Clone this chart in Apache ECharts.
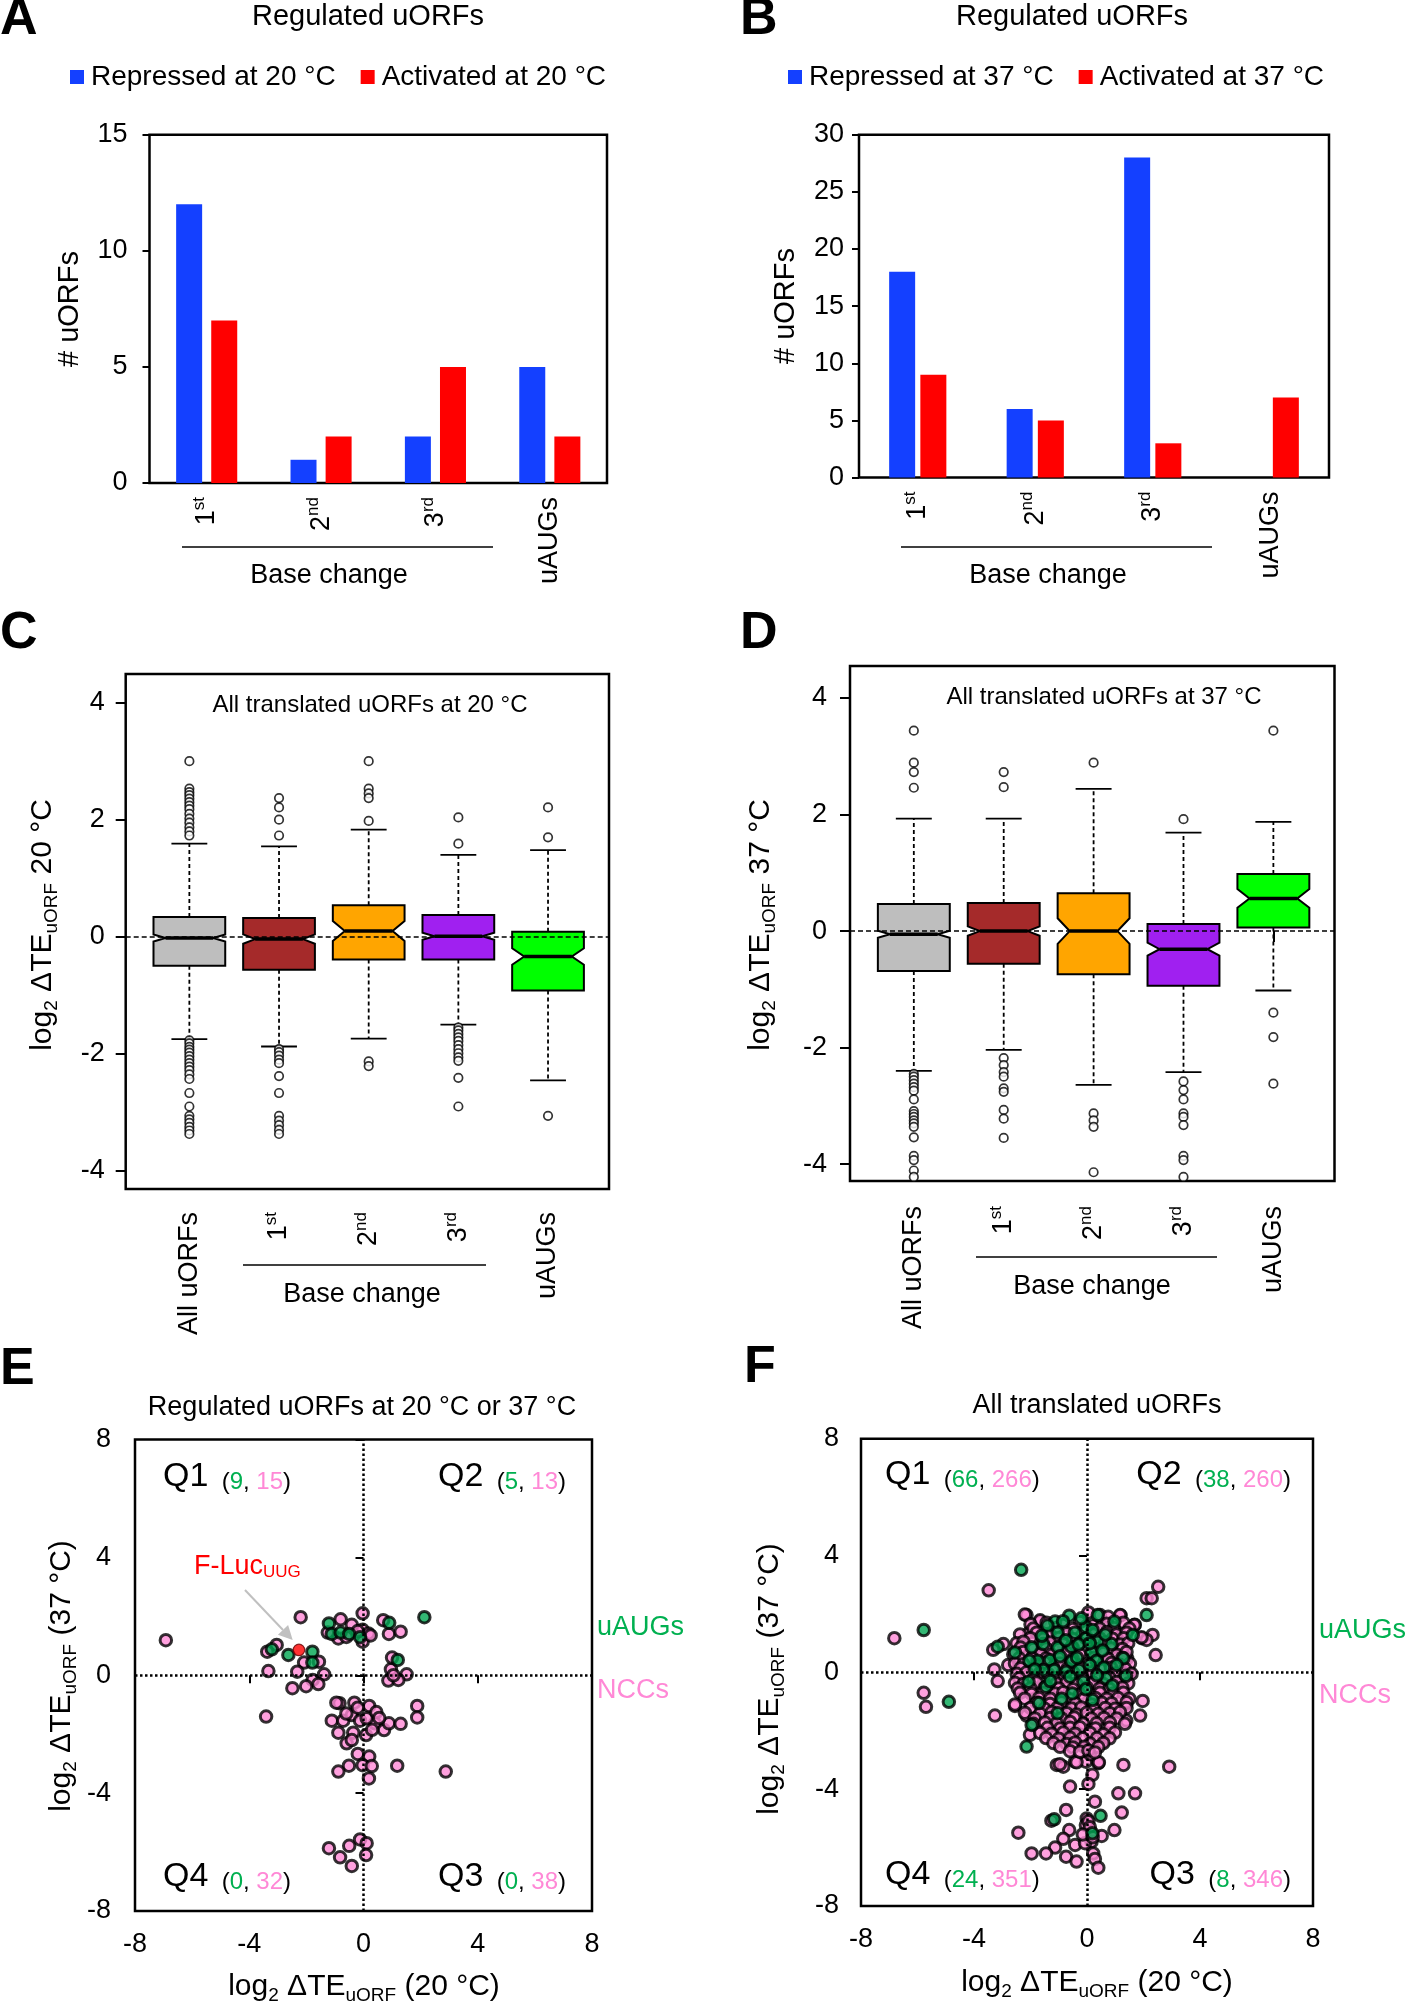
<!DOCTYPE html>
<html>
<head>
<meta charset="utf-8">
<script src="https://cdn.jsdelivr.net/npm/echarts@6/dist/echarts.min.js"></script>
<style>
html, body { margin: 0; padding: 0; background: #fff; }
#main { width: 1418px; height: 2003px; }
</style>
</head>
<body>
<div id="main"></div>
<script>
// ---------- data ----------
const barCats = ['1st', '2nd', '3rd', 'uAUGs'];
const aRepressed = [12, 1, 2, 5];
const aActivated = [7, 2, 5, 2];
const bRepressed = [18, 6, 28, 0];
const bActivated = [9, 5, 3, 7];

const boxCats = ['All uORFs', '1st', '2nd', '3rd', 'uAUGs'];
const boxColors = ['#bebebe', '#a52a2a', '#ffa500', '#a020f0', '#00ff00'];
const boxTicks = [-4, -2, 0, 2, 4];

// 20 °C: whisker low, Q1, median, Q3, whisker high, notch half-height
const cLow = [-1.75, -1.875, -1.74, -1.50, -2.455];
const cQ1 = [-0.494, -0.565, -0.39, -0.39, -0.918];
const cMed = [-0.02, -0.04, 0.10, 0.01, -0.337];
const cQ3 = [0.337, 0.32, 0.54, 0.37, 0.086];
const cHigh = [1.59, 1.545, 1.83, 1.40, 1.48];
const cNotch = [0.06, 0.08, 0.17, 0.06, 0.14];
const cOutliers = [
  [3.0, 2.53, 2.47, 2.42, 2.36, 2.3, 2.24, 2.18, 2.1, 2.02, 1.95, 1.87, 1.8, 1.73,
   -1.77, -1.82, -1.88, -1.93, -1.98, -2.04, -2.1, -2.16, -2.22, -2.28, -2.35, -2.43, -2.67, -2.9, -3.06, -3.12, -3.18, -3.25, -3.31, -3.37],
  [2.37, 2.21, 2.0, 1.73, -1.92, -1.97, -2.03, -2.1, -2.16, -2.38, -2.67, -3.06, -3.14, -3.22, -3.3, -3.37],
  [3.0, 2.53, 2.45, 2.37, 1.98, -2.13, -2.21],
  [2.04, 1.59, -1.55, -1.6, -1.66, -1.72, -1.78, -1.85, -1.92, -1.99, -2.06, -2.12, -2.41, -2.9],
  [2.21, 1.70, -3.06]
];

// 37 °C
const dLow = [-2.40, -2.04, -2.64, -2.42, -1.02];
const dQ1 = [-0.686, -0.56, -0.74, -0.94, 0.06];
const dMed = [-0.055, 0.0, 0.0, -0.31, 0.56];
const dQ3 = [0.465, 0.48, 0.65, 0.12, 0.98];
const dHigh = [1.93, 1.93, 2.44, 1.69, 1.875];
const dNotch = [0.06, 0.08, 0.22, 0.11, 0.16];
const dOutliers = [
  [3.44, 2.89, 2.73, 2.46, -2.45, -2.5, -2.56, -2.62, -2.68, -2.74, -2.89, -3.09, -3.14, -3.19, -3.25, -3.3, -3.36, -3.54, -3.86, -3.93, -4.11, -4.22],
  [2.73, 2.47, -2.18, -2.3, -2.42, -2.5, -2.7, -2.76, -3.07, -3.22, -3.55],
  [2.89, -3.13, -3.25, -3.36, -4.14],
  [1.92, -2.58, -2.73, -2.89, -3.13, -3.19, -3.33, -3.86, -3.93, -4.22],
  [3.44, -1.40, -1.82, -2.62]
];

// E: regulated uORFs, [x = log2 dTE 20 °C, y = log2 dTE 37 °C]
const eNcc = [
  [-6.92, 1.19], [-2.20, 1.97], [-3.04, 1.03], [-3.37, 0.80], [-2.08, 0.43], [-1.56, 0.46], [-1.38, 0.03],
  [-1.78, -0.16], [-1.58, -0.30], [-2.01, -0.37], [-2.49, -0.44], [-2.32, 0.12], [-3.33, 0.14], [-3.41, -1.40],
  [-0.80, 1.90], [-0.41, 1.71], [-0.03, 2.10], [-0.03, 1.54], [0.17, 1.42], [-0.03, 1.14], [-0.88, 1.25],
  [-0.60, 1.30], [-1.25, 1.45], [-0.20, 1.50], [0.69, 1.87], [0.89, 1.40], [1.30, 1.48], [0.25, 1.35],
  [0.96, 0.20], [1.51, 0.03], [0.87, -0.18], [1.22, -0.16], [1.00, 0.60], [1.05, 0.00],
  [-0.84, -0.95], [-0.95, -0.93], [-0.32, -0.93], [0.20, -1.04], [-1.11, -1.54], [-0.71, -1.54], [-0.41, -1.35],
  [-0.12, -1.54], [0.40, -1.63], [0.11, -1.46], [-0.88, -1.95], [-0.59, -2.31], [-0.36, -1.95], [0.09, -2.03],
  [0.72, -1.86], [0.89, -1.63], [1.30, -1.65], [-0.41, -2.20], [0.45, -1.25], [-0.60, -1.30], [1.88, -1.04],
  [1.88, -1.43], [0.30, -1.85], [-0.20, -1.10], [0.55, -1.45],
  [-0.20, -2.67], [0.20, -2.76], [-0.51, -3.07], [-0.03, -3.05], [0.29, -3.08], [-0.88, -3.27], [0.19, -3.50],
  [1.18, -3.07], [2.88, -3.27],
  [-1.21, -5.87], [-0.50, -5.79], [-0.12, -5.57], [0.11, -5.70], [-0.82, -6.18], [0.09, -6.10], [-0.41, -6.47]
];
const eUaug = [
  [-3.21, 0.88], [-2.63, 0.69], [-1.79, 0.80], [-1.79, 0.43], [-1.21, 1.76], [-1.11, 1.40], [-0.80, 1.45],
  [-0.50, 1.40], [-0.12, 1.29], [0.90, 1.78], [2.13, 1.97], [1.20, 0.52]
];
const eFluc = [[-2.26, 0.86]];

// F: all translated uORFs
const fNcc = [
  [-6.82, 1.17], [-3.48, 2.81], [-5.78, -0.70], [-5.70, -1.18], [-3.26, -1.48], [-3.28, 0.10], [-3.16, -0.30],
  [-2.96, 0.97], [-3.32, 0.77], [-2.79, 0.25], [-2.14, 1.96], [-1.66, 1.74], [-2.04, 1.37], [-2.55, -1.15],
  [-2.14, -1.48], [-2.02, -2.14],
  [2.52, 2.93], [2.11, 2.54], [2.29, 2.54], [2.32, 1.28], [1.94, 1.17], [2.11, 1.11], [2.43, 0.59], [1.97, -0.98],
  [1.88, -1.48], [1.69, 1.63], [1.19, 1.95], [1.49, -0.01], [1.42, 0.48], [1.39, -1.65], [1.39, -1.08],
  [-1.07, -3.17], [-0.84, -3.23], [-0.42, -3.06], [-0.04, -3.06], [0.40, -3.11], [1.29, -3.17], [2.91, -3.23],
  [0.19, -3.51], [0.05, -3.82], [-0.60, -3.91], [1.11, -4.14], [1.70, -4.14], [0.28, -4.43], [-0.74, -4.71],
  [1.23, -4.80], [-0.01, -5.00], [-0.04, -5.23], [-2.43, -5.49], [-0.63, -5.40], [0.97, -5.40], [0.52, -5.60],
  [-0.84, -5.70], [-0.42, -5.91], [0.16, -5.80], [-1.13, -6.00], [-1.45, -6.20], [-1.96, -6.20], [-0.74, -6.31],
  [-0.37, -6.48], [0.22, -6.20], [0.28, -6.39], [0.40, -6.69], [-0.07, -5.85], [-0.96, -3.15], [-0.37, -3.08],
  [0.42, -3.08], [0.11, -2.80], [0.57, -2.37], [-1.26, -5.08], [0.05, -5.10], [0.10, -5.30], [-0.15, -5.55],
  [0.20, -5.65],
  // dense core
  [-2.20, 1.98], [-1.66, 1.78], [0.05, 2.05], [0.46, 1.96], [1.17, 1.96], [0.75, 1.90],
  [-2.00, 1.65], [-1.43, 1.70], [-0.84, 1.62], [-0.25, 1.72], [0.20, 1.60], [0.70, 1.66], [1.29, 1.70], [1.68, 1.62],
  [-1.90, 1.50], [-1.10, 1.52], [-0.50, 1.48], [0.45, 1.50], [0.95, 1.52], [1.50, 1.50],
  [-2.37, 1.30], [-1.78, 1.36], [-1.31, 1.28], [-0.72, 1.34], [0.22, 1.30], [0.70, 1.38], [1.05, 1.30], [1.40, 1.36], [1.93, 1.20],
  [-2.00, 1.17], [-1.55, 1.15], [-1.00, 1.18], [-0.50, 1.14], [0.00, 1.18], [0.45, 1.16], [0.90, 1.15], [1.30, 1.17],
  [-2.49, 1.00], [-2.25, 1.05], [-1.31, 1.02], [-0.84, 0.96], [-0.25, 1.00], [0.64, 1.02], [1.17, 0.95], [1.46, 1.00],
  [-2.35, 0.85], [-1.90, 0.80], [-1.45, 0.82], [-1.00, 0.80], [-0.50, 0.84], [0.30, 0.80], [0.85, 0.82], [1.25, 0.80],
  [-2.61, 0.62], [-2.25, 0.70], [-1.66, 0.64], [-1.25, 0.60], [-0.72, 0.68], [-0.25, 0.62], [0.58, 0.66], [1.05, 0.60], [1.40, 0.70],
  [-2.40, 0.48], [-1.95, 0.50], [-1.45, 0.47], [-1.00, 0.50], [-0.50, 0.45], [0.25, 0.50], [0.75, 0.46], [1.25, 0.50],
  [-2.55, 0.30], [-2.25, 0.28], [-1.49, 0.34], [-0.96, 0.30], [0.05, 0.30], [0.87, 0.32], [1.17, 0.26], [1.52, 0.30],
  [-2.35, 0.14], [-1.85, 0.12], [-1.20, 0.16], [-0.70, 0.12], [-0.20, 0.15], [0.45, 0.12], [0.85, 0.16], [1.35, 0.12],
  [-2.49, -0.05], [-2.14, 0.00], [-1.66, -0.02], [-1.37, -0.06], [-0.48, -0.02], [0.16, 0.00], [0.99, -0.04], [1.58, -0.05],
  [-2.40, -0.20], [-1.90, -0.22], [-1.15, -0.20], [-0.80, -0.18], [-0.15, -0.22], [0.40, -0.20], [0.80, -0.18], [1.30, -0.20],
  [-2.55, -0.36], [-2.25, -0.40], [-1.78, -0.35], [-1.07, -0.38], [-0.72, -0.34], [-0.37, -0.40], [0.22, -0.36], [0.58, -0.40], [1.05, -0.33], [1.46, -0.38],
  [-2.45, -0.55], [-2.00, -0.55], [-1.50, -0.52], [-1.00, -0.55], [-0.50, -0.58], [0.00, -0.52], [0.45, -0.55], [0.80, -0.57], [1.25, -0.52],
  [-2.37, -0.70], [-1.96, -0.74], [-1.55, -0.70], [-1.13, -0.72], [-0.84, -0.68], [-0.25, -0.75], [0.46, -0.70], [0.93, -0.72], [1.29, -0.70],
  [-2.20, -0.90], [-1.70, -0.88], [-1.30, -0.90], [-0.60, -0.92], [-0.10, -0.90], [0.30, -0.88], [0.70, -0.90], [1.10, -0.88], [1.50, -0.90],
  [-2.55, -1.10], [-1.78, -1.04], [-1.31, -1.08], [-0.90, -1.02], [-0.42, -1.06], [0.16, -1.10], [0.52, -1.04], [0.87, -1.06], [1.40, -1.02],
  [-2.00, -1.22], [-1.50, -1.25], [-1.05, -1.22], [-0.55, -1.24], [-0.20, -1.20], [0.25, -1.25], [0.65, -1.22], [1.00, -1.25], [1.40, -1.22],
  [-2.20, -1.38], [-1.66, -1.42], [-1.25, -1.36], [-0.72, -1.40], [-0.37, -1.44], [-0.01, -1.38], [0.40, -1.42], [0.81, -1.40], [1.17, -1.36],
  [-1.85, -1.58], [-1.30, -1.56], [-0.90, -1.58], [-0.45, -1.55], [0.15, -1.58], [0.60, -1.56], [1.05, -1.58],
  [-1.90, -1.76], [-1.49, -1.72], [-1.07, -1.74], [-0.60, -1.70], [-0.13, -1.76], [0.34, -1.74], [0.81, -1.72], [1.34, -1.76],
  [-1.40, -1.90], [-0.95, -1.92], [-0.60, -1.90], [-0.25, -1.88], [0.30, -1.92], [0.80, -1.90],
  [-1.66, -2.08], [-1.25, -2.10], [-0.84, -2.06], [-0.42, -2.10], [0.11, -2.08], [0.58, -2.12], [0.99, -2.06],
  [-1.45, -2.25], [-1.00, -2.27], [-0.60, -2.24], [-0.15, -2.26], [0.35, -2.25], [0.80, -2.26],
  [-1.19, -2.42], [-0.72, -2.45], [-0.42, -2.40], [0.11, -2.44], [0.58, -2.42],
  [-0.95, -2.55], [-0.50, -2.57], [-0.10, -2.55], [0.40, -2.56],
  [-0.60, -2.70], [-0.25, -2.72], [0.05, -2.68], [0.28, -2.74]
];
const fUaug = [
  [-2.33, 3.51], [-5.78, 1.45], [-4.89, -1.01], [-2.14, -2.54], [-1.96, -1.80], [-1.16, -5.03], [0.48, -4.91],
  [0.19, -5.51], [2.11, 1.96], [1.62, 1.28], [-3.16, 0.88], [-2.55, 0.68], [0.38, 1.96], [0.97, 1.74], [-0.63, 1.94],
  [-1.13, 1.74], [-0.43, 1.36], [-1.04, 1.36], [-1.96, 0.86], [-1.55, 0.97], [-1.04, 0.86], [-0.55, 0.88],
  [-0.04, 1.17], [0.38, 1.05], [0.87, 0.97], [0.16, 0.68], [-1.75, 0.40], [-2.04, 0.40], [-1.31, 0.42],
  [-0.55, 0.37], [-1.16, 0.08], [-0.74, 0.02], [-0.28, 0.08], [0.34, 0.40], [0.60, 0.17], [1.29, 0.48],
  [1.38, -0.12], [0.67, -0.20], [-0.13, -0.32], [-2.07, -0.32], [-1.45, -0.49], [-0.52, -0.72], [-0.04, -0.58],
  [-1.04, -1.40], [-0.04, 1.56], [-1.55, 0.08],
  [-1.40, 1.60], [-0.85, 1.75], [-0.20, 1.85], [0.20, 1.45], [0.65, 1.30], [-1.60, 1.25], [-0.75, 1.10],
  [-0.30, 0.95], [0.10, 1.00], [0.55, 0.75], [1.05, 0.25], [-1.85, 0.10], [-0.95, 0.55], [-0.35, 0.50],
  [0.10, 0.25], [0.35, -0.10], [-0.60, -0.15], [-1.30, -0.30], [0.90, -0.45], [-0.90, -0.90], [0.20, -0.95],
  [-1.70, -1.05]
];

// ---------- styling helpers ----------
const FONT = 'Liberation Sans, Arial, Helvetica, sans-serif';
const BLUE = '#1440ff';
const RED = '#ff0000';
const PINK = '#ff88d6';
const GREEN = '#00a651';
const GREEN_T = '#00b050';

const SUP = {
  n: { fontSize: 27, fontFamily: FONT, color: '#000', lineHeight: 32 },
  s: { fontSize: 17, fontFamily: FONT, color: '#000', verticalAlign: 'top' }
};
function supLabel(v) {
  const m = /^(\d)(st|nd|rd)$/.exec(v);
  return m ? '{n|' + m[1] + '}{s|' + m[2] + '}' : '{n|' + v + '}';
}

function txt(x, y, text, size, o) {
  o = o || {};
  return {
    type: 'text', x: x, y: y, rotation: o.rot || 0, silent: true, z: 100,
    style: {
      text: text, fontSize: size, fontFamily: FONT, fontWeight: o.bold ? 'bold' : 'normal',
      fill: o.fill || '#000', align: o.align || 'center', verticalAlign: 'middle',
      textAlign: o.align || 'center', textVerticalAlign: 'middle', rich: o.rich
    }
  };
}
function hline(x1, x2, y) {
  return { type: 'line', silent: true, shape: { x1: x1, y1: y, x2: x2, y2: y }, style: { stroke: '#000', lineWidth: 1.5 } };
}
function logRich(base, sub) {
  return {
    b: { fontSize: base, fontFamily: FONT, fill: '#000', lineHeight: base + 7 },
    s: { fontSize: sub, fontFamily: FONT, fill: '#000', verticalAlign: 'bottom' }
  };
}
const QR = {
  q: { fontSize: 34, fontFamily: FONT, fill: '#000' },
  p: { fontSize: 24, fontFamily: FONT, fill: '#000', verticalAlign: 'bottom' },
  g: { fontSize: 24, fontFamily: FONT, fill: GREEN_T, verticalAlign: 'bottom' },
  k: { fontSize: 24, fontFamily: FONT, fill: PINK, verticalAlign: 'bottom' }
};
function quad(x, y, q, g, k, align) {
  return txt(x, y, '{q|' + q + '}{p|  (}{g|' + g + '}{p|, }{k|' + k + '}{p|)}', 34, { align: align, rich: QR });
}

// ---------- derived series data ----------
function boxData(lo, q1, md, q3, hi, nh) {
  return boxCats.map((c, i) => [i + 1, lo[i], q1[i], md[i], q3[i], hi[i], nh[i]]);
}
function outData(groups) {
  const pts = [];
  groups.forEach((g, i) => g.forEach(v => pts.push([i + 1, v])));
  return pts;
}
function boxRenderer(capHalf) {
  return function (params, api) {
    const x = api.value(0), lo = api.value(1), q1 = api.value(2), md = api.value(3);
    const q3 = api.value(4), hi = api.value(5), nh = api.value(6);
    const hw = 0.4, ind = 0.134;
    const p = (a, b) => api.coord([a, b]);
    const line = (a, b, style) => ({ type: 'line', shape: { x1: a[0], y1: a[1], x2: b[0], y2: b[1] }, style: style });
    const dash = { stroke: '#000', lineWidth: 1.8, lineDash: [4, 3] };
    const solid = { stroke: '#000', lineWidth: 1.8 };
    const pts = [[x - hw, q1], [x - hw, md - nh], [x - hw + ind, md], [x - hw, md + nh], [x - hw, q3],
                 [x + hw, q3], [x + hw, md + nh], [x + hw - ind, md], [x + hw, md - nh], [x + hw, q1]]
      .map(d => p(d[0], d[1]));
    return {
      type: 'group', children: [
        line(p(x, q3), p(x, hi), dash),
        line(p(x, q1), p(x, lo), dash),
        line(p(x - capHalf, hi), p(x + capHalf, hi), solid),
        line(p(x - capHalf, lo), p(x + capHalf, lo), solid),
        { type: 'polygon', shape: { points: pts }, style: { fill: boxColors[params.dataIndex], stroke: '#000', lineWidth: 2 } },
        line(p(x - hw + ind, md), p(x + hw - ind, md), { stroke: '#000', lineWidth: 3.5 })
      ]
    };
  };
}

// ---------- axes ----------
const lbl = { color: '#000', fontSize: 27, fontFamily: FONT };
const tickStyle = { color: '#000', width: 2 };
function barX(g) {
  return { gridIndex: g, type: 'category', data: barCats, axisTick: { show: false }, axisLine: { show: false },
    axisLabel: { rotate: 90, margin: 14, interval: 0, formatter: supLabel, rich: SUP } };
}
function barY(g, max, margin) {
  return { gridIndex: g, type: 'value', min: 0, max: max, interval: 5, splitLine: { show: false }, axisLine: { show: false },
    axisTick: { show: true, length: 7, lineStyle: tickStyle }, axisLabel: Object.assign({ margin: margin }, lbl) };
}
function boxX(g, margin) {
  return { gridIndex: g, type: 'value', min: 0.29, max: 5.68, splitLine: { show: false }, axisLine: { show: false },
    axisTick: { show: true, customValues: [1, 2, 3, 4, 5], length: 11, lineStyle: tickStyle },
    axisLabel: { customValues: [1, 2, 3, 4, 5], rotate: 90, margin: margin,
      formatter: v => supLabel(boxCats[Math.round(v) - 1]), rich: SUP } };
}
function boxY(g, min, max, margin) {
  return { gridIndex: g, type: 'value', min: min, max: max, splitLine: { show: false }, axisLine: { show: false },
    axisTick: { show: true, customValues: boxTicks, length: 10, lineStyle: tickStyle },
    axisLabel: Object.assign({ customValues: boxTicks, margin: margin }, lbl) };
}
function sqAxis(g, margin) {
  return { gridIndex: g, type: 'value', min: -8, max: 8, interval: 4, splitLine: { show: false }, axisLine: { show: false },
    axisTick: { show: true, length: 8, lineStyle: tickStyle }, axisLabel: Object.assign({ margin: margin }, lbl) };
}

const gridBase = { show: true, borderColor: '#000', borderWidth: 2.5, containLabel: false };
const zeroDash = { silent: true, symbol: ['none', 'none'], label: { show: false },
  lineStyle: { color: '#000', width: 1.5, type: [5, 3] }, data: [{ yAxis: 0 }] };
const zeroDot = { silent: true, symbol: ['none', 'none'], label: { show: false },
  lineStyle: { color: '#000', width: 2.5, type: [2.5, 2.5] }, data: [{ yAxis: 0 }, { xAxis: 0 }] };
const dot = (color) => ({ color: color, borderColor: '#000', borderWidth: 3 });
const openCircle = { color: '#fff', borderColor: '#000', borderWidth: 1.7 };

// ---------- annotation graphics ----------
const LR30 = logRich(30, 19);
const graphics = [
  txt(0, 20, 'A', 52, { bold: true, align: 'left' }),
  txt(740, 20, 'B', 52, { bold: true, align: 'left' }),
  txt(0, 634, 'C', 52, { bold: true, align: 'left' }),
  txt(740, 634, 'D', 52, { bold: true, align: 'left' }),
  txt(0, 1370, 'E', 52, { bold: true, align: 'left' }),
  txt(744, 1368, 'F', 52, { bold: true, align: 'left' }),

  txt(368, 17, 'Regulated uORFs', 29),
  txt(1072, 17, 'Regulated uORFs', 29),
  txt(370, 705, 'All translated uORFs at 20 °C', 24),
  txt(1104, 697, 'All translated uORFs at 37 °C', 24),
  txt(362, 1408, 'Regulated uORFs at 20 °C or 37 °C', 27),
  txt(1097, 1406, 'All translated uORFs', 27),

  hline(182, 493, 547), txt(329, 576, 'Base change', 27),
  hline(901, 1212, 547), txt(1048, 576, 'Base change', 27),
  hline(243, 486, 1265), txt(362, 1295, 'Base change', 27),
  hline(976, 1217, 1257), txt(1092, 1287, 'Base change', 27),

  txt(70, 309, '# uORFs', 29, { rot: Math.PI / 2 }),
  txt(786, 306, '# uORFs', 29, { rot: Math.PI / 2 }),
  txt(43, 925, '{b|log}{s|2}{b| ΔTE}{s|uORF}{b| 20 °C}', 30, { rot: Math.PI / 2, rich: LR30 }),
  txt(761, 925, '{b|log}{s|2}{b| ΔTE}{s|uORF}{b| 37 °C}', 30, { rot: Math.PI / 2, rich: LR30 }),
  txt(62, 1676, '{b|log}{s|2}{b| ΔTE}{s|uORF}{b| (37 °C)}', 30, { rot: Math.PI / 2, rich: LR30 }),
  txt(770, 1679, '{b|log}{s|2}{b| ΔTE}{s|uORF}{b| (37 °C)}', 30, { rot: Math.PI / 2, rich: LR30 }),
  txt(364, 1987, '{b|log}{s|2}{b| ΔTE}{s|uORF}{b| (20 °C)}', 30, { rich: LR30 }),
  txt(1097, 1983, '{b|log}{s|2}{b| ΔTE}{s|uORF}{b| (20 °C)}', 30, { rich: LR30 }),

  quad(163, 1477, 'Q1', 9, 15, 'left'),
  quad(566, 1477, 'Q2', 5, 13, 'right'),
  quad(163, 1877, 'Q4', 0, 32, 'left'),
  quad(566, 1877, 'Q3', 0, 38, 'right'),
  quad(885, 1475, 'Q1', 66, 266, 'left'),
  quad(1291, 1475, 'Q2', 38, 260, 'right'),
  quad(885, 1875, 'Q4', 24, 351, 'left'),
  quad(1291, 1875, 'Q3', 8, 346, 'right'),

  txt(597, 1628, 'uAUGs', 27, { align: 'left', fill: GREEN_T }),
  txt(597, 1691, 'NCCs', 27, { align: 'left', fill: PINK }),
  txt(1319, 1631, 'uAUGs', 27, { align: 'left', fill: GREEN_T }),
  txt(1319, 1696, 'NCCs', 27, { align: 'left', fill: PINK }),

  txt(194, 1567, '{b|F-Luc}{s|UUG}', 27, { align: 'left', rich: {
    b: { fontSize: 27, fontFamily: FONT, fill: RED },
    s: { fontSize: 17, fontFamily: FONT, fill: RED, verticalAlign: 'bottom' } } }),
  { type: 'line', silent: true, z: 100, shape: { x1: 245, y1: 1590, x2: 283, y2: 1630 }, style: { stroke: '#c0c0c0', lineWidth: 2 } },
  { type: 'polygon', silent: true, z: 100, shape: { points: [[292.7, 1640], [277.9, 1634.7], [288.1, 1625.1]] }, style: { fill: '#c0c0c0' } }
];

// ---------- chart ----------
const chart = echarts.init(document.getElementById('main'), null, { renderer: 'canvas' });
chart.setOption({
  animation: false,
  backgroundColor: '#fff',
  textStyle: { fontFamily: FONT },
  legend: [
    { data: ['Repressed at 20 °C', 'Activated at 20 °C'], left: 70, top: 63, padding: 0, icon: 'rect',
      itemWidth: 14, itemHeight: 14, itemGap: 25, selectedMode: false,
      textStyle: { fontSize: 28, lineHeight: 28, color: '#000', fontFamily: FONT, padding: [0, 0, 0, 2] } },
    { data: ['Repressed at 37 °C', 'Activated at 37 °C'], left: 788, top: 63, padding: 0, icon: 'rect',
      itemWidth: 14, itemHeight: 14, itemGap: 25, selectedMode: false,
      textStyle: { fontSize: 28, lineHeight: 28, color: '#000', fontFamily: FONT, padding: [0, 0, 0, 2] } }
  ],
  grid: [
    Object.assign({ left: 149.5, top: 134.7, width: 457.5, height: 348.3 }, gridBase),
    Object.assign({ left: 859, top: 134.7, width: 470, height: 342.9 }, gridBase),
    Object.assign({ left: 125.7, top: 674, width: 483.3, height: 515 }, gridBase),
    Object.assign({ left: 850, top: 666, width: 484.5, height: 515 }, gridBase),
    Object.assign({ left: 135, top: 1439.5, width: 457, height: 471.5 }, gridBase),
    Object.assign({ left: 861, top: 1438.7, width: 452, height: 467.3 }, gridBase)
  ],
  xAxis: [barX(0), barX(1), boxX(2, 23), boxX(3, 25), sqAxis(4, 20), sqAxis(5, 20)],
  yAxis: [barY(0, 15, 22), barY(1, 30, 15), boxY(2, -4.31, 4.49, 21), boxY(3, -4.29, 4.55, 23), sqAxis(4, 24), sqAxis(5, 22)],
  graphic: { elements: graphics },
  series: [
    { type: 'bar', name: 'Repressed at 20 °C', xAxisIndex: 0, yAxisIndex: 0, data: aRepressed, barWidth: 26, barGap: '35%', itemStyle: { color: BLUE } },
    { type: 'bar', name: 'Activated at 20 °C', xAxisIndex: 0, yAxisIndex: 0, data: aActivated, barWidth: 26, barGap: '35%', itemStyle: { color: RED } },
    { type: 'bar', name: 'Repressed at 37 °C', xAxisIndex: 1, yAxisIndex: 1, data: bRepressed, barWidth: 26, barGap: '20%', itemStyle: { color: BLUE } },
    { type: 'bar', name: 'Activated at 37 °C', xAxisIndex: 1, yAxisIndex: 1, data: bActivated, barWidth: 26, barGap: '20%', itemStyle: { color: RED } },

    { type: 'custom', xAxisIndex: 2, yAxisIndex: 2, z: 2, renderItem: boxRenderer(0.2),
      data: boxData(cLow, cQ1, cMed, cQ3, cHigh, cNotch), encode: { x: 0, y: [1, 2, 3, 4, 5] } },
    { type: 'scatter', xAxisIndex: 2, yAxisIndex: 2, z: 3, data: outData(cOutliers), symbolSize: 8.5,
      itemStyle: openCircle, markLine: zeroDash },
    { type: 'custom', xAxisIndex: 3, yAxisIndex: 3, z: 2, renderItem: boxRenderer(0.2),
      data: boxData(dLow, dQ1, dMed, dQ3, dHigh, dNotch), encode: { x: 0, y: [1, 2, 3, 4, 5] } },
    { type: 'scatter', xAxisIndex: 3, yAxisIndex: 3, z: 3, data: outData(dOutliers), symbolSize: 8.5,
      itemStyle: openCircle, markLine: zeroDash },

    { type: 'scatter', xAxisIndex: 4, yAxisIndex: 4, z: 2, data: eNcc, symbolSize: 11.5, itemStyle: dot(PINK) },
    { type: 'scatter', xAxisIndex: 4, yAxisIndex: 4, z: 3, data: eUaug, symbolSize: 11.5, itemStyle: dot(GREEN) },
    { type: 'scatter', xAxisIndex: 4, yAxisIndex: 4, z: 4, data: eFluc, symbolSize: 11.5,
      itemStyle: { color: RED, borderColor: '#600', borderWidth: 1.2 } },
    { type: 'scatter', xAxisIndex: 4, yAxisIndex: 4, z: 10, data: [], markLine: zeroDot },

    { type: 'scatter', xAxisIndex: 5, yAxisIndex: 5, z: 1, data: [], markLine: zeroDot },
    { type: 'scatter', xAxisIndex: 5, yAxisIndex: 5, z: 2, data: fNcc, symbolSize: 11.5, itemStyle: dot(PINK) },
    { type: 'scatter', xAxisIndex: 5, yAxisIndex: 5, z: 3, data: fUaug, symbolSize: 11.5, itemStyle: dot(GREEN) }
  ]
});
</script>
</body>
</html>
